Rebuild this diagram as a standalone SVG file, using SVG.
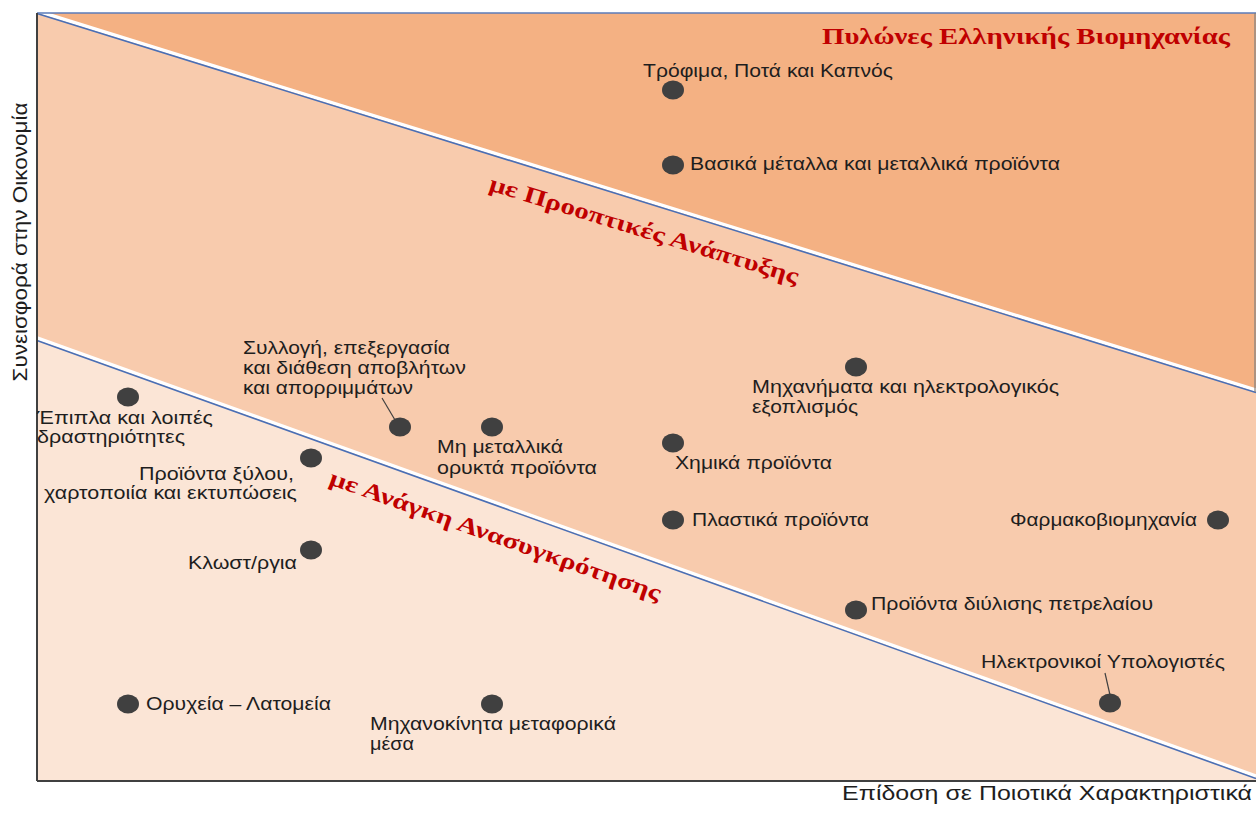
<svg xmlns="http://www.w3.org/2000/svg" width="1256" height="816" viewBox="0 0 1256 816">
<style>
.lbl{font-family:"Liberation Sans",Arial,sans-serif;font-size:19px;fill:#1E1E1E}
.axis{font-family:"Liberation Sans",Arial,sans-serif;font-size:20px;fill:#1E1E1E}
.red{font-family:"Liberation Serif","Times New Roman",serif;font-weight:bold;font-size:23px;fill:#C00000}
.dot{fill:#404040}
.lead{stroke:#404040;stroke-width:1.2;fill:none}
</style>
<rect width="1256" height="816" fill="#FFFFFF"/>
<g id="zones">
<rect x="37" y="13" width="1219" height="768" fill="#FBE5D6"/>
<polygon points="37,13 1256,392 1256,778 37,340" fill="#F8CBAD"/>
<polygon points="37,13 1256,13 1256,392" fill="#F4B183"/>
<line x1="37" y1="11" x2="1256" y2="390" stroke="#FFFFFF" stroke-width="3.5"/>
<line x1="37" y1="13.5" x2="1256" y2="392.5" stroke="#4A6FB5" stroke-width="1.6"/>
<line x1="37" y1="338" x2="1256" y2="776" stroke="#FFFFFF" stroke-width="3.5"/>
<line x1="37" y1="340.5" x2="1256" y2="778.5" stroke="#4A6FB5" stroke-width="1.6"/>
<line x1="37" y1="13" x2="1256" y2="13" stroke="#5B7BB8" stroke-width="1.6"/>
<line x1="1255" y1="13" x2="1255" y2="392" stroke="#7F7F7F" stroke-width="1.2"/>
<line x1="37" y1="13" x2="37" y2="781" stroke="#404040" stroke-width="2"/>
<line x1="37" y1="781" x2="1256" y2="781" stroke="#404040" stroke-width="2"/>
</g>
<g id="titles">
<text class="red" x="822" y="44" textLength="408" lengthAdjust="spacingAndGlyphs">Πυλώνες Ελληνικής Βιομηχανίας</text>
<text class="red" transform="translate(488,190) rotate(17)" textLength="322" lengthAdjust="spacingAndGlyphs">με Προοπτικές Ανάπτυξης</text>
<text class="red" transform="translate(328,484) rotate(19.5)" textLength="350" lengthAdjust="spacingAndGlyphs">με Ανάγκη Ανασυγκρότησης</text>
<text class="axis" transform="translate(27,242) rotate(-90)" text-anchor="middle" textLength="279" lengthAdjust="spacingAndGlyphs">Συνεισφορά στην Οικονομία</text>
<text class="axis" x="842" y="800" textLength="410" lengthAdjust="spacingAndGlyphs">Επίδοση σε Ποιοτικά Χαρακτηριστικά</text>
</g>
<g id="connectors">
<line class="lead" x1="382" y1="398" x2="395" y2="420"/>
<line class="lead" x1="1105" y1="673" x2="1110" y2="695"/>
</g>
<g id="n-food"><ellipse class="dot" cx="673" cy="90" rx="11" ry="9.5"/><text class="lbl" x="643" y="77" textLength="250" lengthAdjust="spacingAndGlyphs">Τρόφιμα, Ποτά και Καπνός</text></g>
<g id="n-metals"><ellipse class="dot" cx="673" cy="165" rx="11" ry="9.5"/><text class="lbl" x="690" y="170" textLength="370" lengthAdjust="spacingAndGlyphs">Βασικά μέταλλα και μεταλλικά προϊόντα</text></g>
<g id="n-waste"><ellipse class="dot" cx="400" cy="427" rx="11" ry="9.5"/><text class="lbl" x="243" y="354" textLength="207" lengthAdjust="spacingAndGlyphs">Συλλογή, επεξεργασία</text><text class="lbl" x="243" y="374" textLength="223" lengthAdjust="spacingAndGlyphs">και διάθεση αποβλήτων</text><text class="lbl" x="243" y="394" textLength="170" lengthAdjust="spacingAndGlyphs">και απορριμμάτων</text></g>
<g id="n-nonmetal"><ellipse class="dot" cx="492" cy="427" rx="11" ry="9.5"/><text class="lbl" x="437" y="453" textLength="126" lengthAdjust="spacingAndGlyphs">Μη μεταλλικά</text><text class="lbl" x="437" y="474" textLength="160" lengthAdjust="spacingAndGlyphs">ορυκτά προϊόντα</text></g>
<g id="n-furniture"><ellipse class="dot" cx="128" cy="397" rx="11" ry="9.5"/><text class="lbl" x="37" y="424" textLength="176" lengthAdjust="spacingAndGlyphs">Έπιπλα και λοιπές</text><text class="lbl" x="37" y="443" textLength="148" lengthAdjust="spacingAndGlyphs">δραστηριότητες</text></g>
<g id="n-wood"><ellipse class="dot" cx="311" cy="458" rx="11" ry="9.5"/><text class="lbl" x="294" y="480" text-anchor="end" textLength="155" lengthAdjust="spacingAndGlyphs">Προϊόντα ξύλου,</text><text class="lbl" x="297" y="499" text-anchor="end" textLength="253" lengthAdjust="spacingAndGlyphs">χαρτοποιία και εκτυπώσεις</text></g>
<g id="n-textile"><ellipse class="dot" cx="311" cy="550" rx="11" ry="9.5"/><text class="lbl" x="297" y="569" text-anchor="end" textLength="109" lengthAdjust="spacingAndGlyphs">Κλωστ/ργια</text></g>
<g id="n-mining"><ellipse class="dot" cx="128" cy="704" rx="11" ry="9.5"/><text class="lbl" x="146" y="710" textLength="185" lengthAdjust="spacingAndGlyphs">Ορυχεία – Λατομεία</text></g>
<g id="n-vehicles"><ellipse class="dot" cx="492" cy="704" rx="11" ry="9.5"/><text class="lbl" x="370" y="730" textLength="246" lengthAdjust="spacingAndGlyphs">Μηχανοκίνητα μεταφορικά</text><text class="lbl" x="370" y="750" textLength="44" lengthAdjust="spacingAndGlyphs">μέσα</text></g>
<g id="n-machinery"><ellipse class="dot" cx="856" cy="367" rx="11" ry="9.5"/><text class="lbl" x="752" y="393" textLength="307" lengthAdjust="spacingAndGlyphs">Μηχανήματα και ηλεκτρολογικός</text><text class="lbl" x="752" y="413" textLength="106" lengthAdjust="spacingAndGlyphs">εξοπλισμός</text></g>
<g id="n-chemicals"><ellipse class="dot" cx="673" cy="443" rx="11" ry="9.5"/><text class="lbl" x="675" y="469" textLength="157" lengthAdjust="spacingAndGlyphs">Χημικά προϊόντα</text></g>
<g id="n-plastics"><ellipse class="dot" cx="673" cy="520" rx="11" ry="9.5"/><text class="lbl" x="692" y="526" textLength="177" lengthAdjust="spacingAndGlyphs">Πλαστικά προϊόντα</text></g>
<g id="n-pharma"><ellipse class="dot" cx="1218" cy="520" rx="11" ry="9.5"/><text class="lbl" x="1197" y="526" text-anchor="end" textLength="187" lengthAdjust="spacingAndGlyphs">Φαρμακοβιομηχανία</text></g>
<g id="n-refining"><ellipse class="dot" cx="856" cy="610" rx="11" ry="9.5"/><text class="lbl" x="871" y="610" textLength="282" lengthAdjust="spacingAndGlyphs">Προϊόντα διύλισης πετρελαίου</text></g>
<g id="n-computers"><ellipse class="dot" cx="1110" cy="703" rx="11" ry="9.5"/><text class="lbl" x="1225" y="668" text-anchor="end" textLength="244" lengthAdjust="spacingAndGlyphs">Ηλεκτρονικοί Υπολογιστές</text></g>
</svg>
